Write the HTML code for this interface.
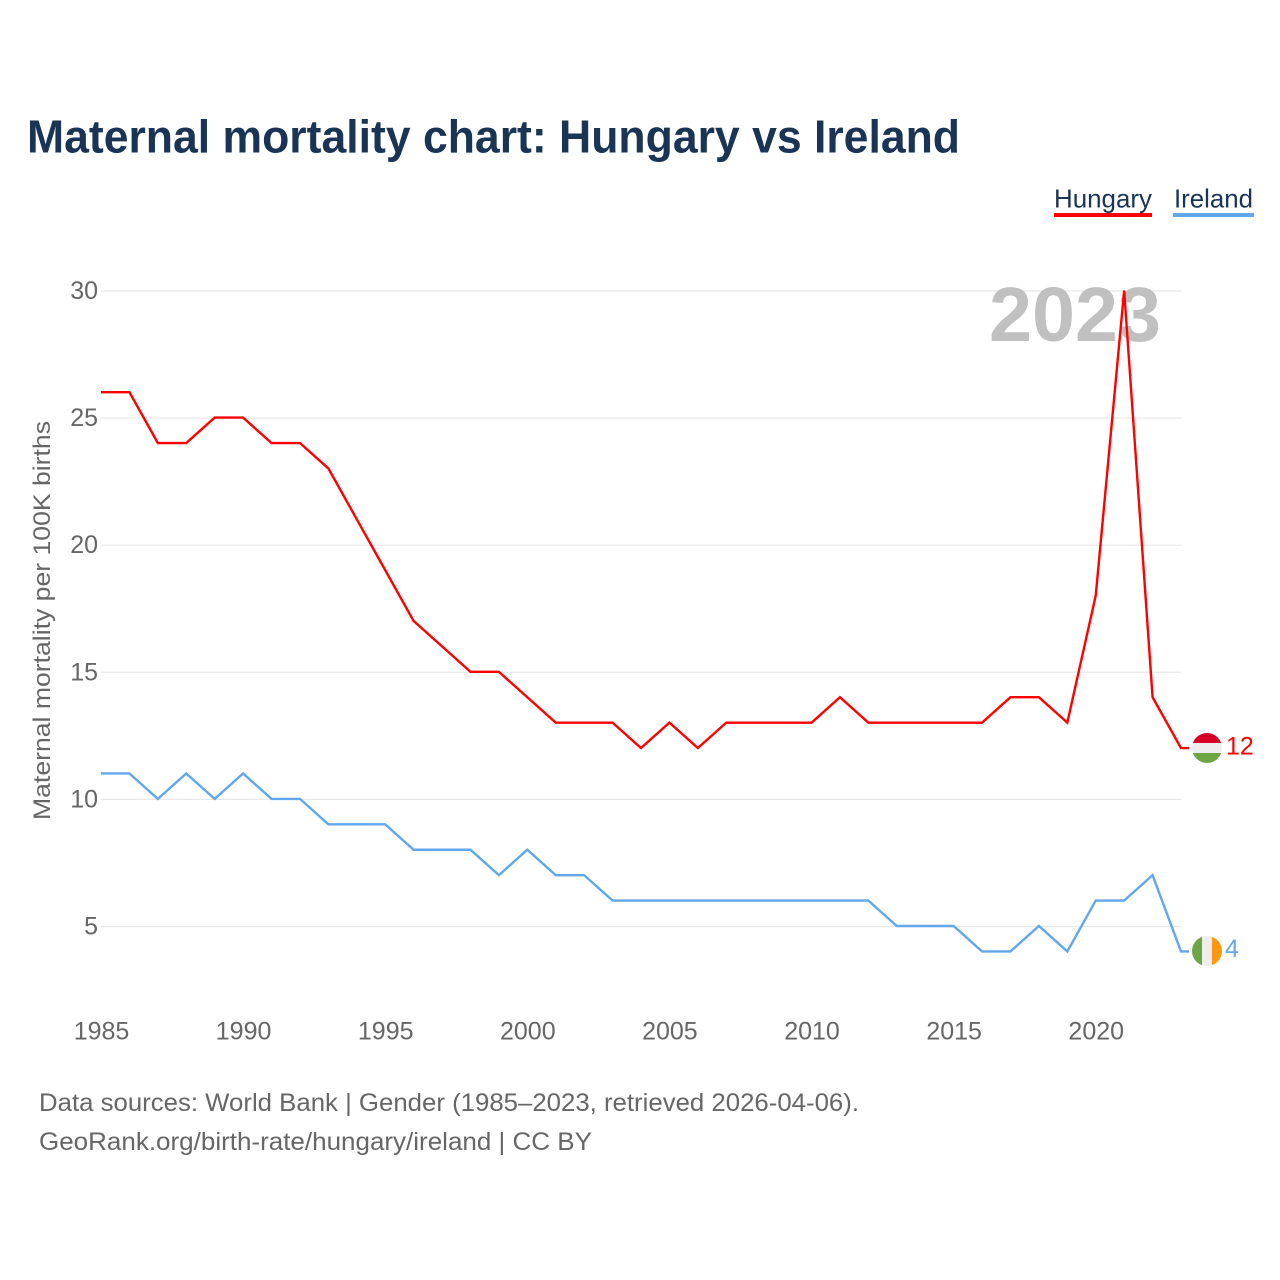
<!DOCTYPE html>
<html lang="en">
<head>
<meta charset="utf-8">
<title>Maternal mortality chart: Hungary vs Ireland</title>
<style>
html,body{margin:0;padding:0;background:#fff;width:1280px;height:1280px;overflow:hidden}
svg{display:block;font-family:"Liberation Sans",sans-serif}
</style>
</head>
<body>
<svg id="chart" width="1280" height="1280" viewBox="0 0 1280 1280" xmlns="http://www.w3.org/2000/svg">
<defs>
<clipPath id="clip-hu"><circle cx="1207" cy="748" r="15"/></clipPath>
<clipPath id="clip-ie"><circle cx="1207" cy="951" r="15"/></clipPath>
</defs>
<rect width="1280" height="1280" fill="#fff"/>
<text x="27" y="152.5" font-size="46" font-weight="700" fill="#1a3455" textLength="933" lengthAdjust="spacingAndGlyphs">Maternal mortality chart: Hungary vs Ireland</text>

<g>
<text x="1054" y="207.5" font-size="26" fill="#1a3455" textLength="98" lengthAdjust="spacingAndGlyphs">Hungary</text>
<rect x="1054" y="213" width="98" height="4" fill="#ff0000"/>
</g>
<g>
<text x="1174" y="207.5" font-size="26" fill="#1a3455" textLength="79" lengthAdjust="spacingAndGlyphs">Ireland</text>
<rect x="1173" y="213" width="81" height="4" fill="#62a6ec"/>
</g>

<g id="grid"></g>
<text x="989" y="341" font-size="77" font-weight="700" fill="#c0c0c0" textLength="172" lengthAdjust="spacingAndGlyphs">2023</text>
<g id="y-ticks"></g>
<g id="x-ticks"></g>
<text transform="translate(50 620.5) rotate(-90)" text-anchor="middle" font-size="24" fill="#666" textLength="399" lengthAdjust="spacingAndGlyphs">Maternal mortality per 100K births</text>
<g id="series"></g>

<g clip-path="url(#clip-hu)">
<rect x="1192" y="733" width="30" height="10" fill="#d80027"/>
<rect x="1192" y="743" width="30" height="10" fill="#eeeeee"/>
<rect x="1192" y="753" width="30" height="10" fill="#6da544"/>
</g>
<g clip-path="url(#clip-ie)">
<rect x="1192" y="936" width="10" height="30" fill="#6da544"/>
<rect x="1202" y="936" width="10" height="30" fill="#eeeeee"/>
<rect x="1212" y="936" width="10" height="30" fill="#ff9811"/>
</g>
<text id="end-hu" x="1226" y="754.5" font-size="25" fill="#ff0000"></text>
<text id="end-ie" x="1225" y="957" font-size="25" fill="#62a6ec"></text>

<text x="39" y="1111" font-size="25" fill="#666" textLength="820" lengthAdjust="spacingAndGlyphs">Data sources: World Bank | Gender (1985–2023, retrieved 2026-04-06).</text>
<text x="39" y="1150" font-size="25" fill="#666" textLength="553" lengthAdjust="spacingAndGlyphs">GeoRank.org/birth-rate/hungary/ireland | CC BY</text>
</svg>
<script>
const years = [1985,1986,1987,1988,1989,1990,1991,1992,1993,1994,1995,1996,1997,1998,1999,2000,2001,2002,2003,2004,2005,2006,2007,2008,2009,2010,2011,2012,2013,2014,2015,2016,2017,2018,2019,2020,2021,2022,2023];
const hungary = [26,26,24,24,25,25,24,24,23,21,19,17,16,15,15,14,13,13,13,12,13,12,13,13,13,13,14,13,13,13,13,13,14,14,13,18,30,14,12];
const ireland = [11,11,10,11,10,11,10,10,9,9,9,8,8,8,7,8,7,7,6,6,6,6,6,6,6,6,6,6,5,5,5,4,4,5,4,6,6,7,4];
const xTicks = [1985,1990,1995,2000,2005,2010,2015,2020];
const yTicks = [5,10,15,20,25,30];

const NS = 'http://www.w3.org/2000/svg';
const xScale = y => 101 + (y - 1985) * (1080 / 38);
const yScale = v => 290.5 + (30 - v) * (635.5 / 25);

const gridG = document.getElementById('grid');
const yG = document.getElementById('y-ticks');
yTicks.forEach(v => {
  const l = document.createElementNS(NS, 'line');
  
  
  l.setAttribute('x1', 101);
  l.setAttribute('x2', 1181);
  l.setAttribute('y1', yScale(v) + 0.5);
  l.setAttribute('y2', yScale(v) + 0.5);
  l.setAttribute('stroke', '#e8e8e8');
  l.setAttribute('stroke-width', 1.2);
  gridG.appendChild(l);
  const t = document.createElementNS(NS, 'text');
  
  
  t.setAttribute('x', 98);
  t.setAttribute('y', yScale(v) + 8.5);
  t.setAttribute('text-anchor', 'end');
  t.setAttribute('font-size', 25);
  t.setAttribute('fill', '#666');
  t.textContent = v;
  yG.appendChild(t);
});

const xG = document.getElementById('x-ticks');
xTicks.forEach(y => {
  const t = document.createElementNS(NS, 'text');
  
  
  t.setAttribute('x', xScale(y) + 0.5);
  t.setAttribute('y', 1039.5);
  t.setAttribute('text-anchor', 'middle');
  t.setAttribute('font-size', 25);
  t.setAttribute('fill', '#666');
  t.textContent = y;
  xG.appendChild(t);
});

const seriesG = document.getElementById('series');
function drawSeries(values, color, name) {
  const pts = values.map((v, i) => xScale(years[i]).toFixed(2) + ',' + yScale(v).toFixed(2));
  const last = values[values.length - 1];
  pts.push((xScale(years[years.length - 1]) + 8).toFixed(2) + ',' + yScale(last).toFixed(2));
  const p = document.createElementNS(NS, 'polyline');
  
  
  p.setAttribute('points', pts.join(' '));
  p.setAttribute('fill', 'none');
  p.setAttribute('stroke', color);
  p.setAttribute('stroke-width', 2.4);
  p.setAttribute('stroke-linejoin', 'miter');
  seriesG.appendChild(p);
}
drawSeries(ireland, '#62a6ec', 'line-ireland');
drawSeries(hungary, '#ff0000', 'line-hungary');
document.getElementById('end-hu').textContent = hungary[hungary.length - 1];
document.getElementById('end-ie').textContent = ireland[ireland.length - 1];
</script>
</body>
</html>
